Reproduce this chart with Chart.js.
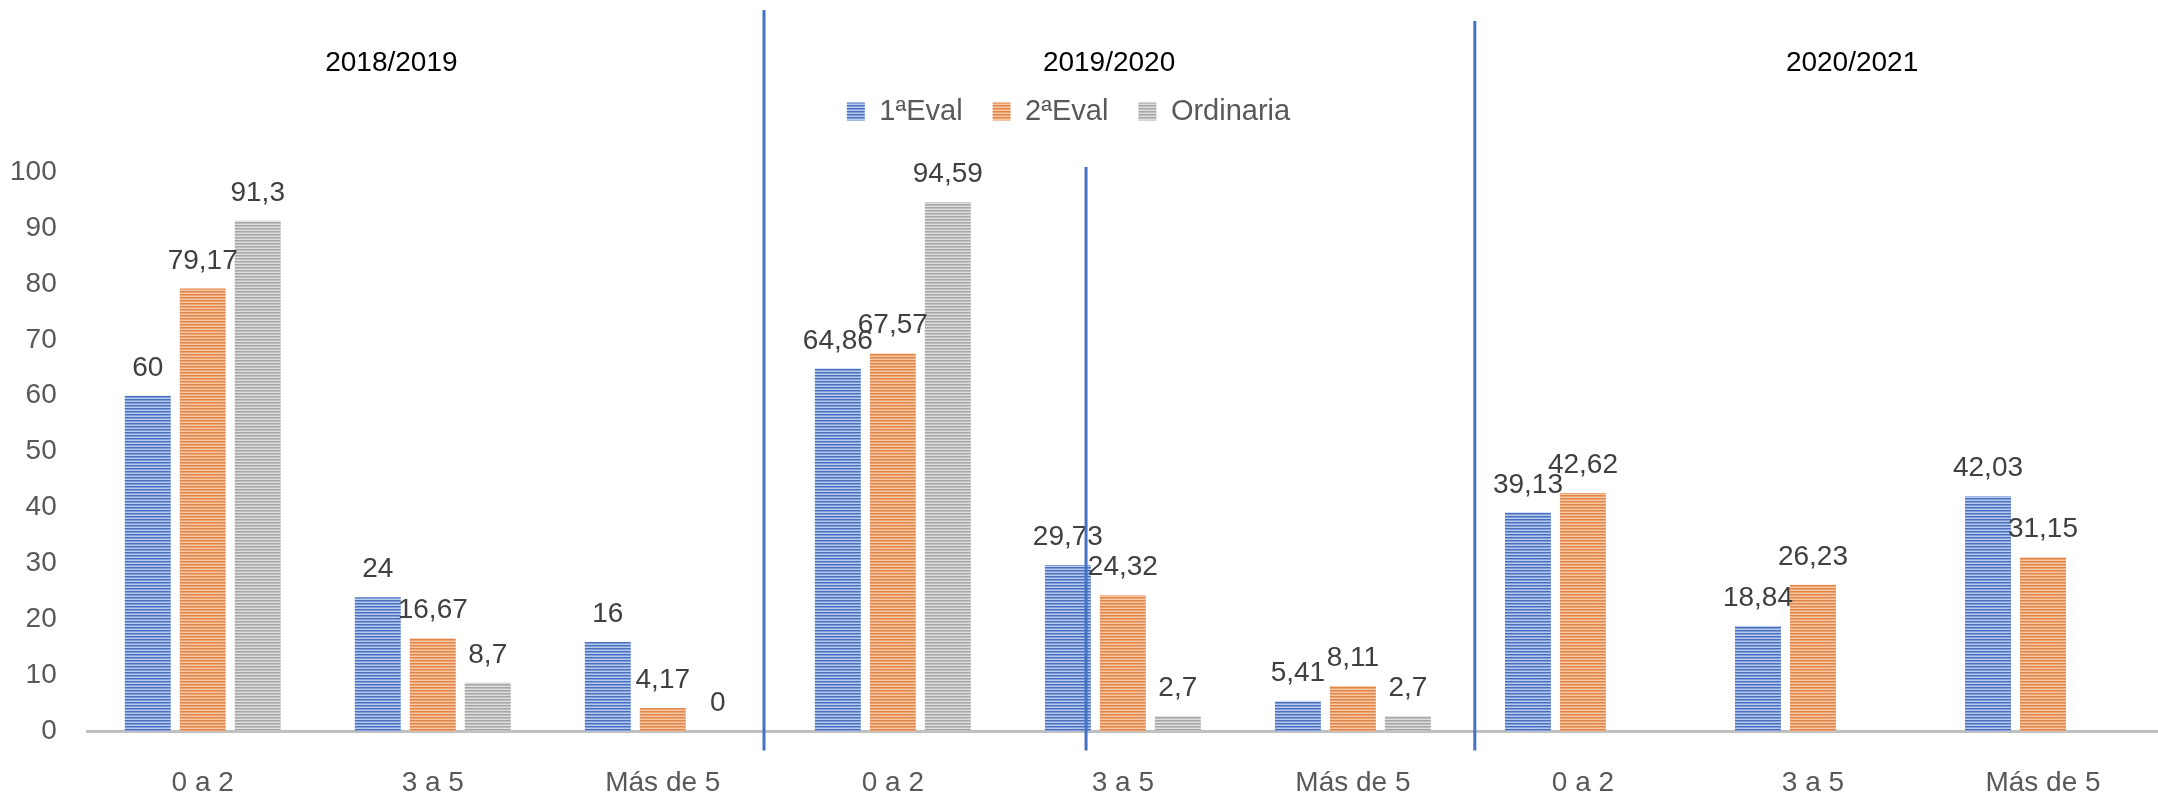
<!DOCTYPE html>
<html>
<head>
<meta charset="utf-8">
<script src="https://cdn.jsdelivr.net/npm/chart.js@4.4.1/dist/chart.umd.min.js"></script>
<style>
  html, body { margin: 0; padding: 0; background: #fff; }
  #wrap { width: 2158px; height: 797px; position: relative; }
</style>
</head>
<body>
<div id="wrap"><canvas id="myChart"></canvas></div>
<script>
// Chart data
const categories = ['0 a 2', '3 a 5', 'Más de 5', '0 a 2', '3 a 5', 'Más de 5', '0 a 2', '3 a 5', 'Más de 5'];
const courses = ['2018/2019', '2019/2020', '2020/2021'];
const seriesNames = ['1ªEval', '2ªEval', 'Ordinaria'];
const eval1 = [60, 24, 16, 64.86, 29.73, 5.41, 39.13, 18.84, 42.03];
const eval2 = [79.17, 16.67, 4.17, 67.57, 24.32, 8.11, 42.62, 26.23, 31.15];
const ordinaria = [91.3, 8.7, 0, 94.59, 2.7, 2.7, null, null, null];
const yMin = 0;
const yMax = 100;
const yStep = 10;

// where the course titles and blue separator lines sit (category units)
const titleAt = [0.82, 3.94, 7.17];
const separators = [
    { at: 2.44, top: 10 },
    { at: 5.53, top: 21 },
    { at: 3.84, top: 167 }
];

const FONT = '"Liberation Sans", Arial, sans-serif';
Chart.defaults.font.family = FONT;

const ctx = document.getElementById('myChart').getContext('2d');

// horizontal stripe fills like the Excel pattern
function stripes(colors) {
    const c = document.createElement('canvas');
    c.width = 1;
    c.height = colors.length;
    const g = c.getContext('2d');
    colors.forEach((col, i) => {
        g.fillStyle = col;
        g.fillRect(0, i, 1, 1);
    });
    return ctx.createPattern(c, 'repeat');
}

const fills = [
    stripes(['#4A6FBF', '#7F9ED8', '#B7CAEE']),
    stripes(['#E1864A', '#EDA36F', '#F7C9A6']),
    stripes(['#A6A6A6', '#BEBEBE', '#DEDEDE'])
];

const valueLabels = {
    id: 'valueLabels',
    afterDatasetsDraw(chart) {
        const c = chart.ctx;
        c.save();
        c.font = '28px ' + FONT;
        c.fillStyle = '#404040';
        c.textAlign = 'center';
        c.textBaseline = 'alphabetic';
        chart.data.datasets.forEach((ds, i) => {
            chart.getDatasetMeta(i).data.forEach((bar, j) => {
                const v = ds.data[j];
                if (v === null) return;
                c.fillText(String(v).replace('.', ','), bar.x, bar.y - 20);
            });
        });
        c.restore();
    }
};

const sections = {
    id: 'sections',
    afterDraw(chart) {
        const c = chart.ctx;
        const x = chart.scales.x;
        c.save();
        c.font = '28px ' + FONT;
        c.fillStyle = '#000000';
        c.textAlign = 'center';
        c.textBaseline = 'middle';
        courses.forEach((name, i) => {
            c.fillText(name, x.getPixelForValue(titleAt[i]), 63);
        });
        c.strokeStyle = '#4472C4';
        c.lineWidth = 3;
        separators.forEach(s => {
            const px = x.getPixelForValue(s.at);
            c.beginPath();
            c.moveTo(px, s.top);
            c.lineTo(px, chart.chartArea.bottom + 19);
            c.stroke();
        });
        c.restore();
    }
};

// extra room under the legend
const legendGap = {
    id: 'legendGap',
    beforeInit(chart) {
        const fit = chart.legend.fit;
        chart.legend.fit = function () {
            fit.bind(this)();
            this.height += 36;
        };
    }
};

new Chart(ctx, {
    type: 'bar',
    data: {
        labels: categories,
        datasets: [eval1, eval2, ordinaria].map((d, i) => ({
            label: seriesNames[i],
            data: d,
            backgroundColor: fills[i],
            borderWidth: 0
        }))
    },
    options: {
        responsive: true,
        maintainAspectRatio: false,
        animation: false,
        // scale padding counts twice in Chart.js, so pull the edges back
        layout: { padding: { top: 67, left: -21, right: 0, bottom: -38 } },
        datasets: {
            bar: { categoryPercentage: 0.717, barPercentage: 0.836 }
        },
        scales: {
            x: {
                grid: { display: false, drawTicks: false },
                border: { display: true, color: '#BFBFBF', width: 3 },
                ticks: {
                    color: '#595959',
                    font: { size: 28 },
                    padding: 35,
                    autoSkip: false,
                    maxRotation: 0
                }
            },
            y: {
                min: yMin,
                max: yMax,
                grid: { display: false, drawTicks: false },
                border: { display: false },
                ticks: {
                    stepSize: yStep,
                    color: '#595959',
                    font: { size: 28 },
                    padding: 31
                }
            }
        },
        plugins: {
            legend: {
                position: 'top',
                labels: {
                    boxWidth: 18,
                    boxHeight: 18,
                    padding: 30,
                    color: '#595959',
                    font: { size: 29 }
                }
            },
            tooltip: { enabled: false }
        }
    },
    plugins: [legendGap, valueLabels, sections]
});
</script>
</body>
</html>
